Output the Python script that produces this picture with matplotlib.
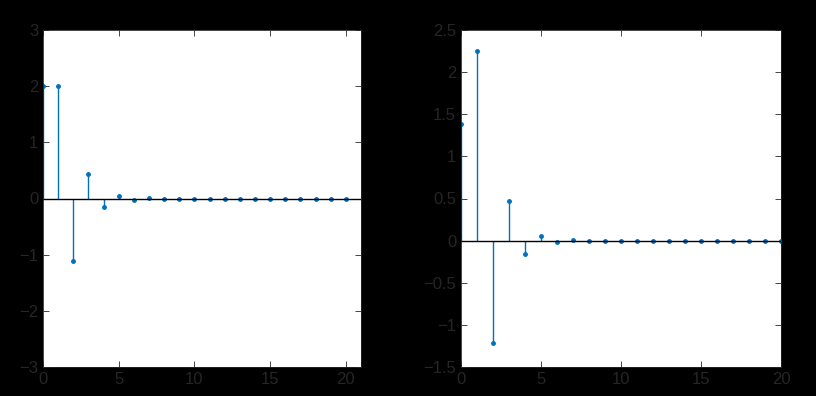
import numpy as np
import matplotlib.pyplot as plt

plt.rcParams['font.family'] = ['Liberation Sans', 'DejaVu Sans']

n = np.arange(21)
left_vals = [2.0, 2.0, -1.12, 0.44, -0.15, 0.05, -0.02, 0.005] + [0.0] * 13
right_vals = [1.38, 2.25, -1.21, 0.47, -0.16, 0.05, -0.02, 0.005] + [0.0] * 13

left_yticks = [-3, -2, -1, 0, 1, 2, 3]
right_yticks = [-1.5, -1, -0.5, 0, 0.5, 1, 1.5, 2, 2.5]
xticks = [0, 5, 10, 15, 20]

W, H = 816, 396
LINE = '#0072BD'
TXT = '#262626'


def stem_panel(ax, y, xlim, ylim, yticks):
    markers, stems, base = ax.stem(n, y, linefmt='-', markerfmt='o', basefmt='-')
    plt.setp(stems, color=LINE, linewidth=1)
    plt.setp(markers, color=LINE, markersize=2.5)
    plt.setp(base, color='black', linewidth=1)
    base.set_xdata([xlim[0], xlim[1]])
    ax.set_xlim(*xlim)
    ax.set_ylim(*ylim)
    ax.set_xticks(xticks)
    ax.set_yticks(yticks)
    ax.set_yticklabels([f'{v:g}'.replace('-', '\u2212') for v in yticks])
    ax.tick_params(direction='in', top=True, right=True, colors=TXT,
                   labelsize=12, length=4, width=0.6)
    for s in ax.spines.values():
        s.set_color(TXT)
        s.set_linewidth(0.6)


fig = plt.figure(figsize=(W / 100, H / 100), dpi=100, facecolor='black')
ax1 = fig.add_axes([43 / W, 1 - 367 / H, 318 / W, 337 / H])
ax2 = fig.add_axes([461 / W, 1 - 367 / H, 320 / W, 337 / H])

stem_panel(ax1, left_vals, (0, 21), (-3, 3), left_yticks)
stem_panel(ax2, right_vals, (0, 20), (-1.5, 2.5), right_yticks)

fig.savefig('out.png', dpi=100, facecolor='black')
